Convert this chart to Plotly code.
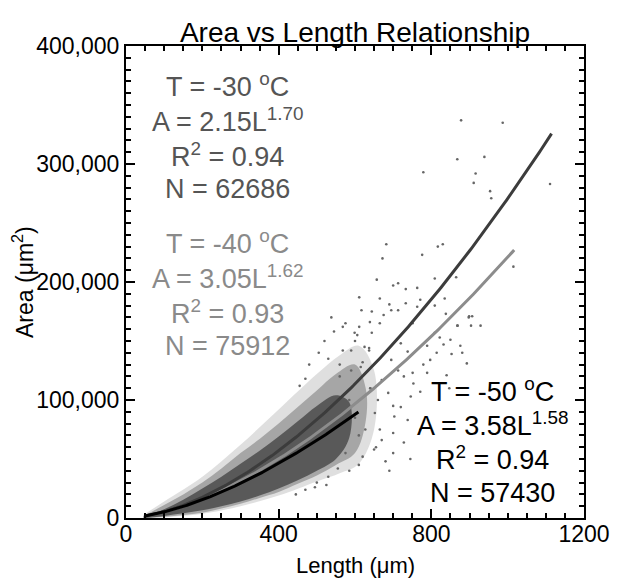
import numpy as np
import plotly.graph_objects as go

# ---- data ----
# power-law fits A = a * L^b for each temperature
temps = ["-30", "-40", "-50"]
fit_a = [2.15, 3.05, 3.58]
fit_b = [1.70, 1.62, 1.58]
fit_r2 = ["0.94", "0.93", "0.94"]
fit_n = ["62686", "75912", "57430"]
fit_lmin = [50, 50, 50]
fit_lmax = [1115, 1017, 609]

# scatter cloud envelopes (Length in um, Area in um^2)
fringe_L = [45, 100, 200, 300, 400, 500, 560, 610, 650]
fringe_hi = [2500, 14000, 35000, 62000, 92000, 122000, 138000, 146000, 125000]
fringe_lo = [0, 500, 3500, 10000, 19000, 31000, 38000, 46000, 75000]
halo_L = [45, 100, 150, 200, 250, 300, 350, 400, 450, 500, 550, 600, 628]
halo_hi = [1500, 11000, 20000, 30000, 42000, 55000, 67000, 80000, 94000, 108000, 122000, 130000, 110000]
halo_lo = [0, 1000, 2500, 4500, 8000, 12000, 17000, 22000, 29000, 36000, 45000, 55000, 82000]
core_L = [50, 100, 150, 200, 250, 300, 350, 400, 450, 500, 550, 585]
core_hi = [800, 7500, 15500, 25000, 35000, 46000, 57000, 69000, 82000, 95000, 104000, 98000]
core_lo = [0, 1800, 4000, 6500, 10000, 14000, 19000, 25000, 32000, 40000, 50000, 68000]

# sparse outlier points (Length, Area)
out_L = [878, 987, 868, 939, 779, 916, 911, 954, 957, 1111, 682, 672, 776, 817, 830,
         1015, 865, 809, 700, 611, 665, 733, 763, 690, 644, 617, 713, 538, 898, 929,
         868, 639, 665, 568, 789, 814, 893, 779, 751, 840, 657, 713, 733, 771, 763,
         695, 675, 751, 611, 599, 644, 809, 720, 637, 822, 738, 695, 797, 713, 847,
         771, 809, 835, 838, 899, 907, 869, 904, 850, 853, 881, 876, 832, 606, 637,
         568, 670, 687, 720, 746, 700, 771, 738, 652, 627, 703, 728, 670, 789, 753,
         728, 560, 590, 620, 585, 640, 700, 655, 610, 745, 690, 625,
         520, 545, 575, 600, 480, 505, 530, 470, 455, 590, 615, 560, 640, 660, 600,
         575, 530, 555, 620, 650, 680, 500, 525, 470, 445, 495, 610, 665, 700, 585]
out_A = [337000, 335000, 304000, 306000, 293000, 292000, 284000, 277000, 271000, 283000, 232000, 220000, 223000, 230000, 232000,
         213000, 204000, 203000, 197000, 187000, 186000, 194000, 195000, 181000, 175000, 176000, 176000, 170000, 170000, 163000,
         163000, 166000, 165000, 162000, 146000, 140000, 131000, 130000, 123000, 121000, 202000, 199000, 182000, 185000, 179000,
         176000, 172000, 165000, 162000, 157000, 157000, 157000, 148000, 144000, 153000, 141000, 134000, 134000, 125000, 110000,
         107000, 180000, 186000, 173000, 171000, 171000, 163000, 163000, 151000, 139000, 140000, 146000, 147000, 155000, 142000,
         142000, 117000, 106000, 94000, 103000, 72000, 75000, 83000, 89000, 75000, 86000, 64000, 66000, 123000, 114000,
         120000, 130000, 125000, 132000, 100000, 110000, 95000, 60000, 70000, 50000, 40000, 145000,
         150000, 158000, 165000, 150000, 130000, 140000, 135000, 118000, 112000, 142000, 128000, 120000, 110000, 100000, 85000,
         55000, 35000, 42000, 52000, 58000, 48000, 30000, 28000, 24000, 20000, 26000, 45000, 75000, 55000, 40000]

title_text = "Area vs Length Relationship"
x_title = "Length (μm)"
y_title = "Area (μm<sup>2</sup>)"
x_ticks = [0, 400, 800, 1200]
y_ticks = [0, 100000, 200000, 300000, 400000]

# ---- styling ----
FONT = "Liberation Sans, Arial, sans-serif"
curve_colors = ["#3c3c3c", "#8c8c8c", "#000000"]
text_colors = ["#555555", "#8a8a8a", "#000000"]
blocks = [(266, 367000, 29500), (266, 234000, 29500), (961, 108500, 29000)]

fig = go.Figure()


def band(xs, hi, lo, color):
    fig.add_trace(go.Scatter(
        x=xs + xs[::-1], y=hi + lo[::-1], fill="toself", fillcolor=color,
        line=dict(width=0, shape="spline"), mode="lines", hoverinfo="skip", showlegend=False))


band(fringe_L, fringe_hi, fringe_lo, "rgba(150,150,150,0.3)")
band(halo_L, halo_hi, halo_lo, "rgba(110,110,110,0.5)")
band(core_L, core_hi, core_lo, "rgba(70,70,70,0.8)")

fig.add_trace(go.Scatter(
    x=out_L, y=out_A, mode="markers",
    marker=dict(size=2.6, color="#666666"), hoverinfo="skip", showlegend=False))

for i in [1, 0, 2]:
    L = np.linspace(fit_lmin[i], fit_lmax[i], 200)
    A = fit_a[i] * L ** fit_b[i]
    fig.add_trace(go.Scatter(x=L, y=A, mode="lines",
                             line=dict(color=curve_colors[i], width=3),
                             showlegend=False))

annotations = []
for i, (cx, y0, dy) in enumerate(blocks):
    lines = [
        f"T = {temps[i]} <sup>o</sup>C",
        f"A = {fit_a[i]:.2f}L<sup>{fit_b[i]:.2f}</sup>",
        f"R<sup>2</sup> = {fit_r2[i]}",
        f"N = {fit_n[i]}",
    ]
    for k, t in enumerate(lines):
        annotations.append(dict(
            x=cx, y=y0 - k * dy, xref="x", yref="y", text=t, showarrow=False,
            xanchor="center", yanchor="middle",
            font=dict(family=FONT, size=27, color=text_colors[i])))

annotations.append(dict(x=0.5, y=0, xref="paper", yref="paper", text=x_title,
                        showarrow=False, xanchor="center", yanchor="middle", yshift=-47,
                        font=dict(family=FONT, size=22, color="black")))
annotations.append(dict(x=0, y=0.5, xref="paper", yref="paper", text=y_title,
                        showarrow=False, xanchor="center", yanchor="middle", xshift=-103,
                        textangle=-90, font=dict(family=FONT, size=23, color="black")))

axis_common = dict(showgrid=False, zeroline=False, showline=True, linecolor="black",
                   linewidth=2, mirror="ticks", ticks="inside", ticklen=9, tickwidth=1.5,
                   tickcolor="black", tickfont=dict(family=FONT, size=23, color="black"),
                   ticklabeloverflow="allow")

fig.update_layout(
    width=622, height=578,
    margin=dict(l=126, r=23, t=46, b=60),
    paper_bgcolor="white", plot_bgcolor="white",
    title=dict(text=title_text, x=0.5, xanchor="center", xref="paper",
               y=1 - 32 / 578, yanchor="middle", yref="container",
               font=dict(family=FONT, size=28, color="black")),
    xaxis=dict(range=[0, 1200], tickvals=x_ticks, ticklabelstandoff=-6,
               minor=dict(dtick=50, ticks="inside", ticklen=5, tickwidth=1.5, tickcolor="black"),
               **axis_common),
    yaxis=dict(range=[0, 400000], tickvals=y_ticks, tickformat=",d",
               minor=dict(dtick=10000, ticks="inside", ticklen=5, tickwidth=1.5, tickcolor="black"),
               **axis_common),
    annotations=annotations,
    showlegend=False,
)

fig.write_html("out.html")
